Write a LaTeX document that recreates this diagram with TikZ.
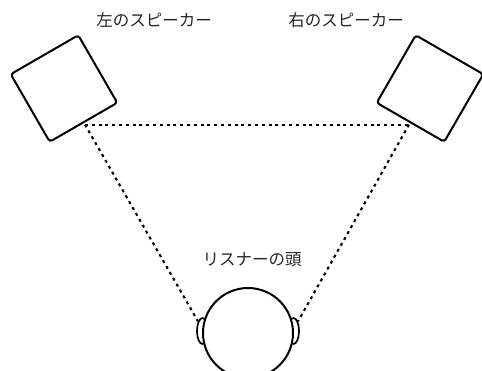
\documentclass[tikz,border=0pt]{standalone}
\usepackage{fontspec}
\newfontfamily\jp{Noto Sans CJK JP}
\usetikzlibrary{shapes.geometric,calc}
\begin{document}
\begin{tikzpicture}[x=1pt,y=-1pt,
  speaker/.style={draw, line width=2pt, rectangle, rounded corners=3pt, minimum size=78pt, inner sep=0pt},
  earshape/.style={draw, line width=1.7pt, ellipse, minimum width=11pt, minimum height=26pt, inner sep=0pt, fill=white},
  headshape/.style={draw, line width=2pt, circle, minimum size=90pt, inner sep=0pt, fill=white},
  sight/.style={line width=2.1pt, dash pattern=on 3pt off 3.8pt},
  lbl/.style={font=\jp\fontsize{16.5}{18}\selectfont, text=black!85, inner sep=0pt}]
\useasboundingbox (0,0) rectangle (482,370);
\node[speaker, rotate=30] (sL) at (64,88.5) {};
\node[speaker, rotate=-30] (sR) at (430,88.5) {};
\node[lbl] (tL) at (154,20) {左のスピーカー};
\node[lbl] (tR) at (346,20) {右のスピーカー};
\node[lbl] (tH) at (252,260) {リスナーの頭};
\node[earshape] (eL) at (202.5,331) {};
\node[earshape] (eR) at (293.5,331) {};
\node[headshape] (head) at (248,333) {};
\coordinate (pL) at ($(sL.south)+(1,1.5)$);
\coordinate (pR) at ($(sR.south)+(-1,1.5)$);
\draw[sight] (pL) -- (pR);
\draw[sight] (pL) -- (eL.115);
\draw[sight] (pR) -- (eR.65);
\end{tikzpicture}
\end{document}
